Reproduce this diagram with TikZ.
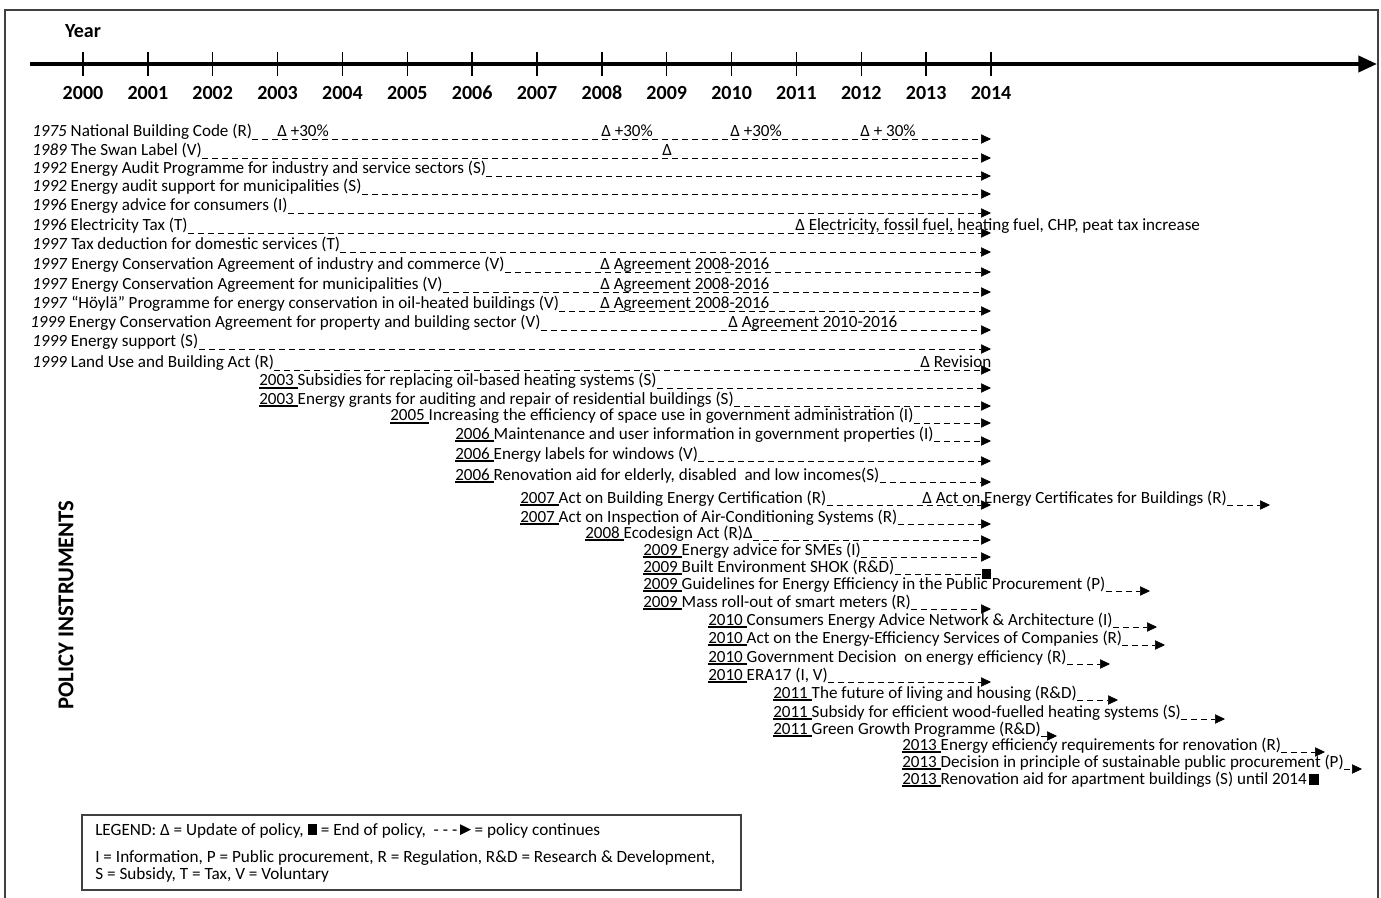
\documentclass[tikz,border=0pt]{standalone}
\usepackage{fontspec}
\setmainfont{Carlito}
\usetikzlibrary{arrows.meta}
% underlined year of a new instrument
\newcommand\yu[1]{\setbox0\hbox{#1\ }\rlap{\rule[-2pt]{\wd0}{1.1pt}}\box0}

\begin{document}
\begin{tikzpicture}[x=0.75pt, y=-0.75pt,
  row/.style={anchor=base west, inner sep=0pt, font=\fontsize{12.8}{15}\selectfont},
  leg/.style={anchor=base west, inner sep=0pt, font=\fontsize{12.9}{15}\selectfont},
  yr/.style={font=\bfseries\fontsize{15}{17}\selectfont},
  go/.style={dash pattern=on 4.5pt off 3pt, -{Triangle[length=7.5pt,width=7pt]}},
  stop/.style={dash pattern=on 4.5pt off 3pt, -{Square[length=7pt,width=7pt]}}]
\useasboundingbox (0,0) rectangle (1381,898);
\draw[black!75, line width=1pt] (5,898) -- (5,10) -- (1378,10) -- (1378,898);

% time axis
\node[yr] (year) at (83,31) {Year};
\coordinate (a0) at (30,64);
\coordinate (a1) at (1377,64);
\draw[line width=3pt, -{Triangle[length=14pt,width=12pt]}] (a0) -- (a1);
\foreach \i in {0,...,14}
{
        \pgfmathtruncatemacro\yy{2000+\i}
        \draw[line width=1.1pt] (83+64.86*\i,52) -- (83+64.86*\i,76);
        \node[yr] (y\yy) at (83+64.86*\i,93) {\yy};
}

\node[rotate=90, font=\bfseries\fontsize{17}{19}\selectfont] (pi) at (66,605) {POLICY INSTRUMENTS};

% instruments: number / x / baseline / end / tip / text
\foreach \n/\x/\y/\e/\s/\t in {
  1/32/137/991/go/{\textit{1975} National Building Code (R)},
  2/32/156/991/go/{\textit{1989} The Swan Label (V)},
  3/32/174/991/go/{\textit{1992} Energy Audit Programme for industry and service sectors (S)},
  4/32/192/991/go/{\textit{1992} Energy audit support for municipalities (S)},
  5/32/211/991/go/{\textit{1996} Energy advice for consumers (I)},
  6/32/231/991/go/{\textit{1996} Electricity Tax (T)},
  7/32/250/991/go/{\textit{1997} Tax deduction for domestic services (T)},
  8/32/270/991/go/{\textit{1997} Energy Conservation Agreement of industry and commerce (V)},
  9/32/290/991/go/{\textit{1997} Energy Conservation Agreement for municipalities (V)},
  10/32/309/991/go/{\textit{1997} “Höylä” Programme for energy conservation in oil-heated buildings (V)},
  11/30/328/991/go/{\textit{1999} Energy Conservation Agreement for property and building sector (V)},
  12/32/347/991/go/{\textit{1999} Energy support (S)},
  13/32/368/991/go/{\textit{1999} Land Use and Building Act (R)},
  14/259/386/991/go/{\yu{2003}Subsidies for replacing oil-based heating systems (S)},
  15/259/404/991/go/{\yu{2003}Energy grants for auditing and repair of residential buildings (S)},
  16/390/421/991/go/{\yu{2005}Increasing the efficiency of space use in government administration (I)},
  17/455/439/991/go/{\yu{2006}Maintenance and user information in government properties (I)},
  18/455/459/991/go/{\yu{2006}Energy labels for windows (V)},
  19/455/480/991/go/{\yu{2006}Renovation aid for elderly, disabled \ and low incomes(S)},
  20/520/503/991/go/{\yu{2007}Act on Building Energy Certification (R)},
  21/520/522/991/go/{\yu{2007}Act on Inspection of Air-Conditioning Systems (R)},
  22/585/538/991/go/{\yu{2008}Ecodesign Act (R)Δ},
  23/643/555/991/go/{\yu{2009}Energy advice for SMEs (I)},
  24/643/572/991/stop/{\yu{2009}Built Environment SHOK (R\&D)},
  25/643/589/1150/go/{\yu{2009}Guidelines for Energy Efficiency in the Public Procurement (P)},
  26/643/607/991/go/{\yu{2009}Mass roll-out of smart meters (R)},
  27/708/625/1157/go/{\yu{2010}Consumers Energy Advice Network \& Architecture (I)},
  28/708/643/1165/go/{\yu{2010}Act on the Energy-Efficiency Services of Companies (R)},
  29/708/662/1110/go/{\yu{2010}Government Decision \ on energy efficiency (R)},
  30/708/680/991/go/{\yu{2010}ERA17 (I, V)},
  31/773/698/1118/go/{\yu{2011}The future of living and housing (R\&D)},
  32/773/717/1225/go/{\yu{2011}Subsidy for efficient wood-fuelled heating systems (S)},
  33/773/734/1057/go/{\yu{2011}Green Growth Programme (R\&D)},
  34/902/750/1325/go/{\yu{2013}Energy efficiency requirements for renovation (R)},
  35/902/767/1362/go/{\yu{2013}Decision in principle of sustainable public procurement (P)}}
{
        \node[row] (r\n) at (\x,\y) {\t};
        \coordinate (e\n) at (\e,\y+2);
        \draw[\s] ([yshift=-1.5pt]r\n.base east) -- (e\n);
}
\node[row] (r36) at (902,784) {\yu{2013}Renovation aid for apartment buildings (S) until 2014};
\fill ([xshift=1.5pt,yshift=-0.8pt]r36.base east) rectangle ++(10,-11);

% updates
\node[row] (u1a) at (277,137) {Δ +30\%};
\node[row] (u1b) at (601,137) {Δ +30\%};
\node[row] (u1c) at (730,137) {Δ +30\%};
\node[row] (u1d) at (860,137) {Δ + 30\%};
\node[row] (u2) at (662,156) {Δ};
\node[row] (u6) at (795,231) {Δ Electricity, fossil fuel, heating fuel, CHP, peat tax increase};
\node[row] (u8) at (600,270) {Δ Agreement 2008-2016};
\node[row] (u9) at (600,290) {Δ Agreement 2008-2016};
\node[row] (u10) at (600,309) {Δ Agreement 2008-2016};
\node[row] (u11) at (728,328) {Δ Agreement 2010-2016};
\node[row] (u13) at (920,368) {Δ Revision};
\node[row] (u20) at (922,503) {Δ Act on Energy Certificates for Buildings (R)};
\coordinate (f20) at (1270,505);
\draw[go] ([yshift=-1.5pt]u20.base east) -- (f20);

% legend
\draw[black!75, line width=0.8pt] (82,815) rectangle (741,890);
\node[leg] (l1) at (95,835) {LEGEND: Δ = Update of policy, \rule{7pt}{8pt} = End of policy, \ - - -\,\tikz\fill (0,0) -- (0,8pt) -- (8pt,4pt) -- cycle; = policy continues};
\node[leg] (l2) at (95,862) {I = Information, P = Public procurement, R = Regulation, R\&D = Research \& Development,};
\node[leg] (l3) at (95,879) {S = Subsidy, T = Tax, V = Voluntary};
\end{tikzpicture}
\end{document}
